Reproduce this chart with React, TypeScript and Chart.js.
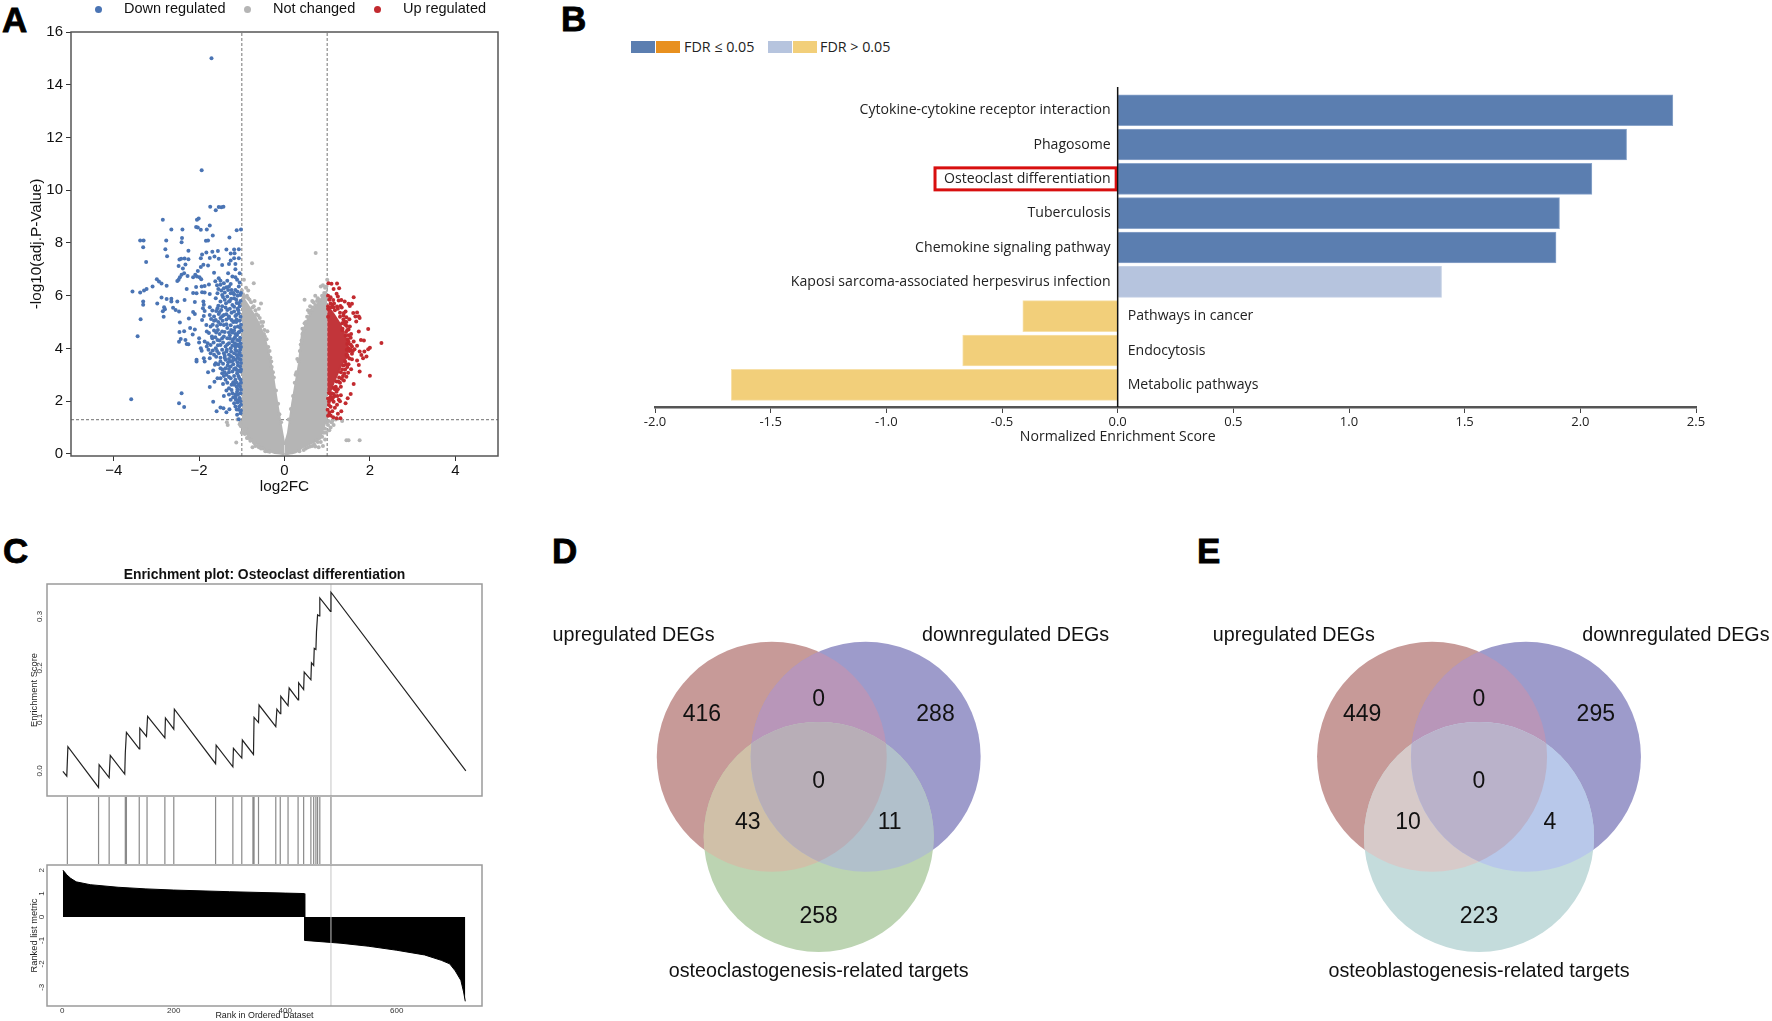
import { useEffect, useRef } from "react";
import { Chart, registerables } from "chart.js";

Chart.register(...registerables);

const ARIAL = '"Liberation Sans", Arial, sans-serif';
const SEGOE = '"Open Sans", "Noto Sans", sans-serif';

/* ---------- Panel A data ---------- */
const volcanoXTicks = [-4, -2, 0, 2, 4];
const volcanoYTicks = [0, 2, 4, 6, 8, 10, 12, 14, 16];
const foldThresholds = [-1, 1];
const pThreshold = 1.3;
const downPoints = [
  [-1.74,9.37],[-1.61,9.24],[-1.54,9.36],[-1.48,9.35],[-1.43,9.37],[-2.85,8.88],[-2.05,8.88],[-2.01,8.93],[-2.07,8.6],[-2.03,8.59],[-1.96,8.5],[-1.82,8.51],[-1.75,8.66],[-2.65,8.51],[-2.39,8.51],[-1.12,8.48],[-1.02,8.51],[-1.68,8.28],[-1.29,8.21],[-2.4,8.19],[-2.41,8.03],[-2.77,8.09],[-3.38,8.09],[-3.3,8.09],[-1.84,8.08],[-1.79,8.09],[-3.31,7.84],[-2.79,7.76],[-2.25,7.7],[-2.75,7.5],[-1.93,7.56],[-1.83,7.64],[-1.69,7.67],[-1.56,7.69],[-1.36,7.75],[-1.18,7.75],[-1.07,7.76],[-1.26,7.6],[-1.17,7.61],[-3.24,7.28],[-2.46,7.37],[-2.42,7.4],[-2.34,7.41],[-2.25,7.38],[-1.96,7.42],[-1.9,7.17],[-1.79,7.14],[-1.75,7.43],[-1.64,7.49],[-1.54,7.4],[-1.46,7.16],[-1.3,7.2],[-1.26,7.33],[-1.18,7.42],[-1.07,7.42],[-1.15,7.2],[-2.48,7.13],[-2.38,7.03],[-2.32,7.18],[-2.35,6.85],[-1.96,7.09],[-2.03,6.94],[-2.09,6.79],[-2.14,6.7],[-2.05,6.73],[-1.99,6.7],[-1.95,6.62],[-2.41,6.79],[-2.45,6.7],[-2.48,6.6],[-2.51,6.56],[-2.27,6.75],[-2.99,6.62],[-2.94,6.54],[-2.88,6.46],[-2.76,6.38],[-3.09,6.35],[-3.23,6.25],[-3.29,6.2],[-3.38,6.12],[-3.56,6.16],[-2.29,6.25],[-2.07,6.33],[-1.94,6.35],[-1.87,6.37],[-1.77,6.42],[-1.65,6.87],[-1.54,6.66],[-1.5,6.57],[-1.42,6.47],[-1.34,6.57],[-1.22,6.73],[-1.15,7.0],[-1.05,6.85],[-1.32,6.85],[-1.26,6.44],[-1.11,6.6],[-1.5,6.41],[-1.42,6.28],[-1.32,6.22],[-1.26,6.09],[-1.15,6.22],[-1.07,6.35],[-2.14,6.1],[-2.06,6.09],[-1.93,6.13],[-1.87,6.12],[-1.75,6.06],[-1.57,6.09],[-1.46,6.03],[-1.34,5.97],[-1.18,5.9],[-1.04,6.03],[-2.88,5.93],[-2.76,5.87],[-2.65,5.88],[-2.65,5.78],[-2.98,5.7],[-3.31,5.78],[-3.31,5.66],[-2.51,5.78],[-2.34,5.84],[-2.1,5.76],[-1.9,5.78],[-1.89,5.66],[-1.61,5.9],[-1.5,5.78],[-1.37,5.71],[-1.22,5.65],[-1.07,5.71],[-2.82,5.56],[-2.8,5.49],[-2.85,5.41],[-2.61,5.54],[-2.55,5.46],[-2.47,5.4],[-2.14,5.38],[-2.1,5.31],[-1.91,5.52],[-1.87,5.42],[-1.75,5.56],[-1.69,5.44],[-1.57,5.52],[-1.48,5.46],[-1.34,5.46],[-1.18,5.4],[-2.83,5.2],[-2.24,5.13],[-3.37,5.11],[-1.89,5.23],[-1.75,5.27],[-1.65,5.21],[-1.54,5.31],[-1.42,5.27],[-1.3,5.21],[-1.15,5.23],[-1.07,5.33],
  [-2.45,4.98],[-1.93,5.08],[-1.83,4.89],[-1.73,4.83],[-1.61,5.08],[-1.5,5.15],[-1.42,4.89],[-1.3,5.15],[-1.18,5.02],[-1.09,4.83],[-3.44,4.46],[-2.46,4.62],[-2.35,4.65],[-2.21,4.77],[-2.1,4.72],[-2.15,4.53],[-1.82,4.64],[-1.77,4.58],[-1.65,4.68],[-1.56,4.7],[-1.46,4.64],[-1.34,4.77],[-1.22,4.6],[-1.11,4.51],[-1.01,4.68],[-2.43,4.36],[-2.47,4.25],[-2.32,4.32],[-2.29,4.17],[-2.25,4.16],[-2.0,4.39],[-2.0,4.22],[-1.87,4.26],[-1.69,4.39],[-1.57,4.32],[-1.46,4.39],[-1.34,4.39],[-1.22,4.26],[-1.11,4.32],[-1.03,4.2],[-1.96,4.01],[-1.94,3.91],[-1.82,4.07],[-1.73,4.13],[-1.61,4.01],[-1.5,4.13],[-1.38,4.07],[-1.26,4.01],[-1.15,4.07],[-1.04,3.95],[-1.73,3.82],[-1.65,3.76],[-1.54,3.82],[-1.42,3.82],[-1.3,3.76],[-1.18,3.82],[-1.07,3.76],[-2.06,3.57],[-2.06,3.5],[-1.89,3.63],[-1.87,3.5],[-1.75,3.63],[-1.61,3.44],[-1.5,3.5],[-1.38,3.57],[-1.26,3.5],[-1.15,3.57],[-1.03,3.57],[-1.79,3.1],[-1.67,3.16],[-1.63,3.38],[-1.5,3.25],[-1.38,3.25],[-1.26,3.31],[-1.15,3.25],[-1.04,3.31],[-1.75,2.54],[-1.64,2.74],[-1.57,2.87],[-1.46,3.06],[-1.36,3.0],[-1.22,3.12],[-1.11,3.06],[-1.03,3.12],[-1.5,2.87],[-1.38,2.81],[-1.26,2.87],[-1.15,2.81],[-1.03,2.81],[-1.3,2.49],[-1.18,2.62],[-1.07,2.62],[-2.41,2.3],[-3.59,2.07],[-2.47,1.92],[-2.35,1.78],[-1.67,1.98],[-1.42,2.2],[-1.22,2.3],[-1.11,2.36],[-1.02,2.43],[-1.15,2.15],[-1.07,2.05],[-1.26,2.05],[-1.5,1.76],[-1.59,1.62],[-1.43,1.73],[-1.29,1.69],[-1.36,1.58],[-1.15,1.8],[-1.07,1.67],[-1.11,1.48],[-1.07,1.31],[-1.03,1.54],[-1.18,1.92],[-1.02,1.86],[-1.09,2.24],
  [-1.71,15.0],[-1.94,10.76],
  [-1.02,6.1],[-1.05,5.6],[-1.1,5.5],[-1.03,5.2],[-1.12,5.1],[-1.2,5.0],[-1.25,4.7],[-1.02,4.9],[-1.08,4.6],[-1.15,4.55],[-1.28,4.5],[-1.04,4.4],[-1.2,4.35],[-1.3,4.2],[-1.1,4.15],[-1.02,4.05],[-1.22,4.1],[-1.35,3.95],[-1.12,3.9],[-1.05,3.85],[-1.25,3.7],[-1.4,3.65],[-1.1,3.65],[-1.02,3.45],[-1.2,3.4],[-1.33,3.35],[-1.09,3.35],[-1.45,3.2],[-1.12,3.18],[-1.02,3.2],[-1.3,3.1],[-1.08,2.95],[-1.02,2.7],[-1.2,2.72],[-1.12,2.55],[-1.03,2.3],[-1.15,2.25],[-1.05,2.12],[-1.1,1.95],[-1.03,2.0],[-1.2,2.15],[-1.05,6.5],[-1.1,6.15],[-1.2,6.1],[-1.28,5.8],[-1.13,5.85],[-1.03,5.8],[-1.15,6.7],
  [-1.62,6.55],[-1.58,6.4],[-1.55,6.25],[-1.48,6.2],[-1.4,6.12],[-1.36,6.32],[-1.3,6.35],[-1.24,6.22],[-1.18,6.05],[-1.1,6.0],[-1.44,5.95],[-1.4,5.85],[-1.3,5.78],[-1.25,5.88],[-1.12,5.72],[-1.55,5.62],[-1.46,5.6],[-1.38,5.55],[-1.28,5.5],[-1.18,5.58],[-1.08,5.45],[-1.6,5.42],[-1.52,5.38],[-1.46,5.22],[-1.36,5.3],[-1.24,5.35],[-1.12,5.28],[-1.72,5.12],[-1.65,5.05],[-1.55,5.0],[-1.45,5.05],[-1.36,5.1],[-1.24,5.08],[-1.13,5.0],[-1.05,5.05],[-1.68,4.9],[-1.58,4.85],[-1.5,4.92],[-1.36,4.92],[-1.26,4.88],[-1.16,4.8],[-1.04,4.78],[-1.6,4.6],[-1.52,4.55],[-1.4,4.62],[-1.3,4.6],[-1.18,4.68],[-1.06,4.62],[-1.7,4.45],[-1.62,4.42],[-1.52,4.3],[-1.42,4.45],[-1.28,4.38],[-1.16,4.42],[-1.06,4.3],[-1.8,4.2],[-1.66,4.22],[-1.56,4.12],[-1.44,4.22],[-1.34,4.15],[-1.16,4.2],[-1.07,4.08],[-1.78,3.95],[-1.68,3.92],[-1.58,3.9],[-1.46,3.95],[-1.36,3.88],[-1.25,3.88],[-1.15,3.95],[-1.02,3.72],[-1.6,3.68],[-1.5,3.65],[-1.4,3.72],[-1.3,3.6],[-1.2,3.65],[-1.12,3.75],[-1.55,3.4],[-1.44,3.42],[-1.32,3.48],[-1.22,3.52],[-1.1,3.48],[-1.06,3.6],[-1.4,3.1],[-1.3,3.22],[-1.18,3.22],[-1.07,3.15],[-1.42,2.95],[-1.3,2.92],[-1.18,2.95],[-1.06,2.88],[-1.44,2.65],[-1.34,2.7],[-1.24,2.62],[-1.12,2.7],[-1.04,2.55],[-1.36,2.4],[-1.24,2.42],[-1.1,2.45],[-1.3,2.25],[-1.14,2.05],[-1.06,1.8],[-1.12,1.68],[-1.02,1.65],
];
const upPoints = [
  [1.03,6.47],[1.1,6.45],[1.23,6.46],[1.28,6.28],[1.15,6.25],[1.22,6.07],[1.25,5.97],[1.08,5.94],[1.62,5.94],[1.14,5.84],[1.27,5.82],[1.33,5.84],[1.41,5.78],[1.5,5.69],[1.58,5.69],[1.53,5.61],[1.31,5.61],[1.23,5.59],[1.12,5.65],[1.43,5.4],[1.39,5.34],[1.61,5.34],[1.7,5.36],[1.74,5.21],[1.66,5.21],[1.45,5.18],[1.52,5.11],[1.4,5.02],[1.68,5.02],[1.76,5.15],[1.96,4.74],[1.53,4.83],[1.47,4.7],[1.74,4.64],[1.56,4.55],[1.43,4.48],[1.79,4.32],[1.86,4.3],[1.62,4.26],[1.7,4.1],[2.27,4.21],[2.0,4.03],[1.96,3.97],[1.87,3.88],[1.76,3.88],[1.64,3.97],[1.58,4.07],[1.5,4.01],[1.47,4.17],[1.8,3.75],[1.92,3.69],[1.84,3.63],[1.7,3.54],[1.58,3.59],[1.48,3.69],[1.74,3.37],[1.76,3.12],[1.56,3.21],[1.49,3.08],[1.45,2.93],[2.0,2.96],[1.62,2.65],[1.39,2.78],[1.55,2.27],[1.48,2.11],[1.43,1.92],[1.32,2.22],[1.27,2.05],[1.33,1.62],[1.23,1.86],[1.15,1.98],[1.08,1.79],[1.25,1.52],[1.15,2.27],[1.22,2.36],[1.04,1.98],[1.08,2.17],[1.01,1.67],[1.05,1.57],[1.08,1.46],[1.14,1.39],[1.22,1.35],[1.31,1.35],
  [1.02,6.0],[1.05,5.85],[1.02,5.6],[1.15,5.55],[1.3,5.35],[1.38,5.1],[1.42,4.9],[1.36,4.75],[1.5,4.5],[1.48,4.35],[1.55,4.15],[1.52,3.9],[1.58,3.8],[1.45,3.75],[1.42,3.5],[1.5,3.4],[1.38,3.35],[1.42,3.2],[1.32,3.1],[1.37,2.95],[1.28,2.9],[1.3,2.7],[1.22,2.75],[1.2,2.55],[1.15,2.5],[1.25,2.45],[1.1,2.3],[1.05,2.3],[1.18,2.2],[1.12,2.05],[1.04,1.85],[1.18,1.75],[1.12,1.62],[1.02,1.45],[1.3,2.0],
  [1.02,5.5],[1.08,5.7],[1.18,5.45],[1.25,5.5],[1.34,5.55],[1.3,5.2],[1.38,5.25],[1.45,5.0],[1.35,4.95],[1.46,4.85],[1.5,4.72],[1.44,4.62],[1.55,4.4],[1.5,4.25],[1.55,3.95],[1.6,3.9],[1.46,3.95],[1.52,3.62],[1.44,3.4],[1.47,3.3],[1.4,3.05],[1.35,3.2],[1.34,2.85],[1.26,2.75],[1.32,2.55],[1.18,2.45],[1.24,2.2],[1.1,2.1],[1.02,2.1],[1.06,2.05],[1.14,2.15],[1.02,5.2],[1.08,5.55],[1.16,5.7],[1.35,4.7],
];
const greyPoints = [
  [0.73,7.62],[-0.76,7.23],[-0.72,6.47],[-0.9,6.3],[-0.85,6.2],[-0.95,6.6],[1.0,6.6],[0.47,5.85],[0.65,5.8],[0.85,6.35],[0.9,6.4],[0.95,6.3],[0.72,6.0],[-0.55,5.7],[-0.7,5.8],[-0.6,5.5],[-0.5,5.0],[-0.4,4.65],[-0.85,5.9],[-0.78,5.75],[-0.66,5.3],[-0.47,4.7],[-0.35,3.9],[-0.31,3.5],[0.42,4.75],[0.47,4.95],[0.55,5.45],[0.6,5.6],[0.78,5.9],[0.68,5.75],[0.4,4.3],[0.3,3.6],[0.26,3.0],
  [1.45,0.52],[1.5,0.52],[1.76,0.52],[-1.13,0.43],[-1.35,1.2],[-1.33,1.1],[1.35,1.25],[1.15,1.1],[1.1,1.2],[1.05,0.9],[0.85,0.45],[0.9,0.3],[0.8,0.25],[0.95,0.55],[-0.75,0.25],[-0.7,0.4],[-0.85,0.6],[-0.95,0.85],[-0.9,0.95],[-0.8,0.5],[-0.98,1.1],[-1.03,1.2],[-1.1,1.3],[-1.0,0.8],[0.7,0.35],[0.75,0.5],[0.6,0.28],[0.5,0.2],[-0.6,0.25],[-0.5,0.2],[-0.4,0.1],[1.02,1.1],[1.08,1.0],[0.98,0.8],[0.92,0.8],
  [-1.0,6.2],[-0.97,6.05],[-0.93,5.95],[-0.88,6.0],[-0.82,5.85],[-0.75,5.55],[-0.72,5.6],[-0.68,5.45],[-0.62,5.25],[-0.58,5.15],[-0.55,5.0],[-0.52,4.85],[-0.48,4.55],[-0.46,4.45],[-0.42,4.35],[-0.38,4.05],[-0.33,3.65],[-0.3,3.3],[-0.27,3.1],[-0.25,2.9],[-0.2,2.4],[-0.15,1.9],[-0.12,1.5],[-0.08,1.2],
  [0.1,1.3],[0.15,1.7],[0.2,2.2],[0.24,2.7],[0.28,3.1],[0.33,3.5],[0.36,3.9],[0.38,4.15],[0.42,4.55],[0.46,4.7],[0.5,5.0],[0.53,5.2],[0.58,5.35],[0.62,5.45],[0.66,5.55],[0.72,5.65],[0.76,5.8],[0.8,5.85],[0.88,6.0],[0.93,6.1],[0.98,6.35],
  [-0.93,0.75],[-0.88,0.6],[-0.72,0.45],[-0.68,0.3],[-0.62,0.32],[-0.55,0.2],[-0.45,0.1],[-0.35,0.08],[0.35,0.1],[0.45,0.15],[0.55,0.25],[0.65,0.3],[0.72,0.28],[0.78,0.45],[0.82,0.6],[0.88,0.65],[0.95,0.95],[0.98,1.2],[1.03,1.25],[1.12,1.25],[1.2,1.3],[-1.02,1.05],[-1.05,1.12],
];
const greyLeftX = [-1.0, -0.9, -0.8, -0.7, -0.6, -0.5, -0.44, -0.36, -0.29, -0.23, -0.17, -0.11, -0.05, 0];
const greyLeftTop = [6.0, 5.75, 5.5, 5.25, 4.95, 4.55, 4.26, 3.75, 3.2, 2.55, 1.92, 1.35, 0.78, 0.34];
const greyLeftBottom = [1.0, 0.78, 0.59, 0.46, 0.34, 0.24, 0.18, 0.11, 0.07, 0.03, 0.02, 0.01, 0.0, 0.0];
const greyRightX = [0, 0.08, 0.13, 0.18, 0.26, 0.34, 0.41, 0.49, 0.57, 0.69, 0.84, 0.92, 1.0];
const greyRightTop = [0.34, 0.78, 1.35, 1.92, 2.68, 3.44, 4.58, 4.9, 5.2, 5.5, 5.84, 6.0, 6.2];
const greyRightBottom = [0.0, 0.0, 0.01, 0.02, 0.06, 0.13, 0.24, 0.3, 0.36, 0.45, 0.62, 1.0, 1.41];
const redBandX = [1.0, 1.08, 1.15, 1.23, 1.31, 1.38, 1.45, 1.5];
const redBandTop = [5.5, 5.45, 5.3, 5.1, 4.9, 4.6, 4.3, 3.95];
const redBandBottom = [2.3, 2.4, 2.7, 3.0, 3.3, 3.5, 3.65, 3.8];
const volcanoLegend = ["Down regulated", "Not changed", "Up regulated"];

/* ---------- Panel B data ---------- */
const pathways = [
  "Cytokine-cytokine receptor interaction",
  "Phagosome",
  "Osteoclast differentiation",
  "Tuberculosis",
  "Chemokine signaling pathway",
  "Kaposi sarcoma-associated herpesvirus infection",
  "Pathways in cancer",
  "Endocytosis",
  "Metabolic pathways",
];
const enrichmentScores = [2.4, 2.2, 2.05, 1.91, 1.895, 1.4, -0.41, -0.67, -1.67];
const pathwaySignificant = [true, true, true, true, true, false, false, false, false];
const nesTicks = [-2, -1.5, -1, -0.5, 0, 0.5, 1, 1.5, 2, 2.5];
const highlightedPathway = "Osteoclast differentiation";

/* ---------- Panel C data ---------- */
const esRanks = [1,8,10,65,66,84,86,112,113,115,138,139,151,153,184,185,200,201,275,276,306,307,322,323,343,344,352,353,383,385,391,392,405,407,423,424,433,434,446,447,451,452,455,456,458,461,462,481,482,724];
const esValues = [-0.001,-0.01,0.047,-0.032,0.012,-0.013,0.03,-0.006,0.035,0.075,0.043,0.083,0.067,0.106,0.064,0.103,0.081,0.12,0.014,0.05,0.008,0.044,0.025,0.06,0.032,0.104,0.094,0.128,0.086,0.12,0.111,0.145,0.127,0.161,0.138,0.171,0.158,0.192,0.177,0.21,0.205,0.238,0.236,0.27,0.303,0.301,0.336,0.31,0.347,0];
const hitRanks = [9,65,84,113,115,138,152,184,200,275,306,322,342,344,352,383,391,405,423,433,446,451,455,458,462,482];
const peakRank = 482;
const metricRanks = [1,3,8,15,25,50,100,150,200,300,400,434,435,500,550,600,650,680,695,705,715,720,723];
const metricValues = [2.0,1.95,1.8,1.65,1.5,1.38,1.27,1.2,1.15,1.08,1.02,1.0,-1.0,-1.12,-1.25,-1.42,-1.62,-1.85,-2.0,-2.3,-2.7,-3.2,-3.6];
const esTicks = [0, 0.1, 0.2, 0.3];
const metricTicks = [-3, -2, -1, 0, 1, 2];
const rankTicks = [0, 200, 400, 600];

/* ---------- Panels D, E data ---------- */
const vennCircles = [
  { x: -0.41, y: 0.35, r: 115 },
  { x: 0.41, y: 0.35, r: 115 },
  { x: 0, y: -0.35, r: 115 },
];
const vennCountX = [-1.02, 0, 1.02, 0, -0.62, 0.62, 0];
const vennCountY = [0.72, 0.852, 0.72, 0.136, -0.222, -0.222, -1.043];
const countsD = ["416", "0", "288", "0", "43", "11", "258"];
const countsE = ["449", "0", "295", "0", "10", "4", "223"];
const vennNameX = [-1.617, 1.72, 0];
const vennNameY = [1.407, 1.407, -1.523];
const namesD = ["upregulated DEGs", "downregulated DEGs", "osteoclastogenesis-related targets"];
const namesE = ["upregulated DEGs", "downregulated DEGs", "osteoblastogenesis-related targets"];
const coloursD = { a: "#c79a98", b: "#9d9bcb", c: "#bcd4b2", ab: "#b896b9", ac: "#d0c0a8", bc: "#b1c0cb", abc: "#b8aeb7" };
const coloursE = { a: "#c79a98", b: "#9d9bcb", c: "#c4dcdc", ab: "#b896b9", ac: "#d7cac9", bc: "#b8c8ea", abc: "#bab2ca" };

/* ---------- helpers ---------- */
type Rect = { l: number; t: number; r: number; b: number };

const toXY = (xs: number[], ys: number[]) => xs.map((x, i) => ({ x, y: ys[i] }));
const pairs = (list: number[][]) => list.map(([x, y]) => ({ x, y }));
const fixedTicks = (values: number[]) => (s: any) => {
  s.ticks = values.map((value) => ({ value }));
};
const fixWidth = (w: number) => (s: any) => {
  s.width = w;
};
const fixHeight = (h: number) => (s: any) => {
  s.height = h;
};

const framePlugin = (color: string, width: number) => ({
  id: "frame",
  afterDatasetsDraw(chart: any) {
    const { ctx, chartArea: a } = chart;
    ctx.save();
    ctx.strokeStyle = color;
    ctx.lineWidth = width;
    ctx.strokeRect(a.left, a.top, a.right - a.left, a.bottom - a.top);
    ctx.restore();
  },
});

const hiddenAxis = (min: number, max: number) => ({ type: "linear", display: false, min, max, offset: false });

const baseOptions = (panel: Rect, plot: Rect, hideX: boolean, hideY: boolean) => ({
  responsive: false,
  animation: false,
  events: [],
  layout: {
    autoPadding: false,
    padding: {
      left: hideY ? plot.l - panel.l : 0,
      top: plot.t - panel.t,
      right: panel.r - plot.r,
      bottom: hideX ? panel.b - plot.b : 0,
    },
  },
  plugins: { legend: { display: false }, tooltip: { enabled: false }, title: { display: false } },
  elements: { line: { tension: 0 } },
});

function Panel({ panel, build }: { panel: Rect; build: () => any }) {
  const ref = useRef<HTMLCanvasElement>(null);
  useEffect(() => {
    const chart = new Chart(ref.current as any, build());
    return () => chart.destroy();
  }, []);
  return (
    <canvas
      ref={ref}
      width={panel.r - panel.l}
      height={panel.b - panel.t}
      style={{ position: "absolute", left: panel.l, top: panel.t, width: panel.r - panel.l, height: panel.b - panel.t }}
    />
  );
}

/* ---------- A ---------- */
const panelA: Rect = { l: 28, t: 15, r: 515, b: 496 };
const plotA: Rect = { l: 71, t: 32, r: 498, b: 456 };
const volcanoBlue = "#4a74b4";
const volcanoGrey = "#b5b5b5";
const volcanoRed = "#c22a2f";
const dots = (data: number[][], color: string) => ({
  data: pairs(data), showLine: false, pointRadius: 2, pointBorderWidth: 0, pointBackgroundColor: color,
});
const band = (xs: number[], ys: number[], color: string, fill: any, edge: number) => ({
  data: toXY(xs, ys), pointRadius: 0, borderWidth: edge, borderColor: color, backgroundColor: color, fill,
});
const dashed = (data: any[]) => ({
  data, pointRadius: 0, borderColor: "#8c8c8c", borderWidth: 1.2, borderDash: [3, 2], fill: false,
});

const buildA = () => ({
  type: "line",
  data: {
    datasets: [
      dots(downPoints, volcanoBlue),
      dots(upPoints, volcanoRed),
      dots(greyPoints, volcanoGrey),
      band(redBandX, redBandTop, "#c2353a", false, 2),
      band(redBandX, redBandBottom, "#c2353a", "-1", 2),
      band(greyLeftX, greyLeftTop, volcanoGrey, false, 2),
      band(greyLeftX, greyLeftBottom, volcanoGrey, "-1", 2),
      band(greyRightX, greyRightTop, volcanoGrey, false, 2),
      band(greyRightX, greyRightBottom, volcanoGrey, "-1", 2),
      dashed([{ x: foldThresholds[0], y: -0.08 }, { x: foldThresholds[0], y: 16 }]),
      dashed([{ x: foldThresholds[1], y: -0.08 }, { x: foldThresholds[1], y: 16 }]),
      dashed([{ x: -5, y: pThreshold }, { x: 5, y: pThreshold }]),
    ],
  },
  options: {
    ...baseOptions(panelA, plotA, false, false),
    scales: {
      x: {
        type: "linear", min: -5, max: 5,
        afterBuildTicks: fixedTicks(volcanoXTicks),
        afterFit: fixHeight(panelA.b - plotA.b),
        grid: { drawOnChartArea: false, drawTicks: true, tickLength: 5, color: "#333", lineWidth: 1 },
        border: { display: false },
        ticks: { color: "#111", font: { family: ARIAL, size: 15 }, padding: 1, maxRotation: 0, autoSkip: false, callback: (v: number) => String(v).replace("-", "\u2212") },
        title: { display: true, text: "log2FC", color: "#111", font: { family: ARIAL, size: 15.3 }, padding: 0 },
      },
      y: {
        type: "linear", min: -0.08, max: 16,
        afterBuildTicks: fixedTicks(volcanoYTicks),
        afterFit: fixWidth(plotA.l - panelA.l),
        grid: { drawOnChartArea: false, drawTicks: true, tickLength: 5, color: "#333", lineWidth: 1 },
        border: { display: false },
        ticks: { color: "#111", font: { family: ARIAL, size: 15 }, padding: 3, autoSkip: false },
        title: { display: true, text: "-log10(adj.P-Value)", color: "#111", font: { family: ARIAL, size: 15.3 }, padding: 0 },
      },
    },
  },
  plugins: [framePlugin("#555", 1.5)],
});

/* ---------- B ---------- */
const panelB: Rect = { l: 635, t: 80, r: 1720, b: 445 };
const plotB: Rect = { l: 655, t: 87, r: 1696, b: 407 };
const barFill = (i: number) => (enrichmentScores[i] >= 0 ? (pathwaySignificant[i] ? "#5b7eb0" : "#b6c4de") : "#f2cf7a");
const barEdge = (i: number) => (enrichmentScores[i] >= 0 ? (pathwaySignificant[i] ? "#8ba5ca" : "#c4d0e5") : "#f7e0a8");

const pathwayLabels = {
  id: "pathwayLabels",
  afterDatasetsDraw(chart: any) {
    const { ctx, scales } = chart;
    const x0 = scales.x.getPixelForValue(0);
    ctx.save();
    ctx.font = `14.1px ${SEGOE}`;
    ctx.fillStyle = "#222";
    ctx.textBaseline = "middle";
    pathways.forEach((name, i) => {
      const y = scales.y.getPixelForValue(i);
      const positive = enrichmentScores[i] >= 0;
      ctx.textAlign = positive ? "right" : "left";
      ctx.fillText(name, positive ? x0 - 7 : x0 + 10, y);
      if (name === highlightedPathway) {
        const w = ctx.measureText(name).width;
        ctx.save();
        ctx.strokeStyle = "#d80f0f";
        ctx.lineWidth = 3;
        ctx.strokeRect(x0 - 7 - w - 9, y - 11, w + 14.5, 22);
        ctx.restore();
      }
    });
    ctx.textAlign = "center";
    ctx.fillText("Normalized Enrichment Score", x0, chart.chartArea.bottom + 29.7);
    ctx.strokeStyle = "#111";
    ctx.lineWidth = 1.5;
    ctx.beginPath();
    ctx.moveTo(x0, chart.chartArea.top);
    ctx.lineTo(x0, chart.chartArea.bottom);
    ctx.stroke();
    ctx.restore();
  },
};

const buildB = () => ({
  type: "bar",
  data: {
    datasets: [
      {
        data: enrichmentScores.map((v, i) => ({ x: v, y: i })),
        backgroundColor: enrichmentScores.map((_, i) => barFill(i)),
        borderColor: enrichmentScores.map((_, i) => barEdge(i)),
        borderWidth: 1,
        barThickness: 31,
      },
    ],
  },
  options: {
    ...baseOptions(panelB, plotB, false, true),
    indexAxis: "y",
    scales: {
      x: {
        type: "linear", min: -2, max: 2.5,
        afterBuildTicks: fixedTicks(nesTicks),
        afterFit: fixHeight(panelB.b - plotB.b),
        grid: { drawOnChartArea: false, drawTicks: true, tickLength: 6, color: "#444", lineWidth: 1 },
        border: { display: true, color: "#555", width: 2.5 },
        ticks: { color: "#222", font: { family: SEGOE, size: 13 }, padding: 1, maxRotation: 0, autoSkip: false, callback: (v: number) => v.toFixed(1) },
      },
      y: { type: "linear", display: false, reverse: true, min: -0.676, max: 8.645, offset: false },
    },
  },
  plugins: [pathwayLabels],
});

/* ---------- C ---------- */
const panelC1: Rect = { l: 29, t: 555, r: 500, b: 815 };
const plotC1: Rect = { l: 47, t: 584, r: 482, b: 796 };
const panelC2: Rect = { l: 0, t: 796, r: 500, b: 865 };
const plotC2: Rect = { l: 47, t: 797, r: 482, b: 864 };
const panelC3: Rect = { l: 29, t: 845, r: 500, b: 1021 };
const plotC3: Rect = { l: 47, t: 865, r: 482, b: 1006 };
const boxGrey = "#9a9a9a";
const rankMin = -27.5;
const rankMax = 753;
const peakLine = (yMin: number, yMax: number) => ({
  data: [{ x: peakRank, y: yMin }, { x: peakRank, y: yMax }],
  pointRadius: 0, borderColor: "#c4c4c4", borderWidth: 1, fill: false,
});
const sideAxis = (min: number, max: number, ticks: number[], title: string, width: number, fmt: (v: number) => string) => ({
  type: "linear", min, max,
  afterBuildTicks: fixedTicks(ticks),
  afterFit: fixWidth(width),
  grid: { display: false, drawTicks: false },
  border: { display: false },
  ticks: { color: "#333", font: { family: ARIAL, size: 8 }, padding: 1.2, crossAlign: "center", minRotation: 90, maxRotation: 90, autoSkip: false, callback: fmt },
  title: { display: true, text: title, color: "#222", font: { family: ARIAL, size: 9.3 }, padding: 0 },
});

const plotTitle = {
  id: "plotTitle",
  afterDraw(chart: any) {
    const { ctx, chartArea: a } = chart;
    ctx.save();
    ctx.font = `bold 13.9px ${ARIAL}`;
    ctx.fillStyle = "#111";
    ctx.textAlign = "center";
    ctx.textBaseline = "middle";
    ctx.fillText("Enrichment plot: Osteoclast differentiation", (a.left + a.right) / 2, a.top - 9);
    ctx.restore();
  },
};

const buildC1 = () => ({
  type: "line",
  data: {
    datasets: [
      { data: toXY(esRanks, esValues), pointRadius: 0, borderColor: "#222", borderWidth: 1.2, fill: false },
      peakLine(-0.0487, 0.363),
    ],
  },
  options: {
    ...baseOptions(panelC1, plotC1, true, false),
    scales: {
      x: hiddenAxis(rankMin, rankMax),
      y: sideAxis(-0.0487, 0.363, esTicks, "Enrichment Score", plotC1.l - panelC1.l, (v: number) => v.toFixed(1)),
    },
  },
  plugins: [framePlugin(boxGrey, 1.5), plotTitle],
});

const buildC2 = () => ({
  type: "line",
  data: {
    datasets: [
      {
        data: hitRanks.flatMap((r) => [{ x: r, y: 0 }, { x: r, y: 1 }, { x: r, y: null }]),
        pointRadius: 0, borderColor: "#8a8a8a", borderWidth: 1.2, fill: false, spanGaps: false,
      },
    ],
  },
  options: {
    ...baseOptions(panelC2, plotC2, true, true),
    scales: { x: hiddenAxis(rankMin, rankMax), y: hiddenAxis(0, 1) },
  },
});

const buildC3 = () => ({
  type: "line",
  data: {
    datasets: [
      peakLine(-3.8, 2.22),
      { data: toXY(metricRanks, metricValues), pointRadius: 0, borderColor: "#000", borderWidth: 1, backgroundColor: "#000", fill: "origin" },
    ],
  },
  options: {
    ...baseOptions(panelC3, plotC3, false, false),
    scales: {
      x: {
        type: "linear", min: rankMin, max: rankMax,
        afterBuildTicks: fixedTicks(rankTicks),
        afterFit: fixHeight(panelC3.b - plotC3.b),
        grid: { display: false, drawTicks: false },
        border: { display: false },
        ticks: { color: "#333", font: { family: ARIAL, size: 8 }, padding: 0, maxRotation: 0, autoSkip: false },
        title: { display: true, text: "Rank in Ordered Dataset", color: "#222", font: { family: ARIAL, size: 8.9 }, padding: 0 },
      },
      y: sideAxis(-3.8, 2.22, metricTicks, "Ranked list metric", plotC3.l - panelC3.l, (v: number) => String(v)),
    },
  },
  plugins: [framePlugin(boxGrey, 1.5)],
});

/* ---------- D, E ---------- */
const vennRegions = (colours: typeof coloursD, counts: string[], names: string[]) => ({
  id: "vennRegions",
  afterDatasetsDraw(chart: any) {
    const { ctx, scales } = chart;
    const [a, b, c] = chart.getDatasetMeta(0).data;
    const clipTo = (e: any) => {
      ctx.beginPath();
      ctx.arc(e.x, e.y, e.options.radius, 0, Math.PI * 2);
      ctx.clip();
    };
    const region = (clips: any[], target: any, color: string) => {
      ctx.save();
      clips.forEach(clipTo);
      ctx.fillStyle = color;
      ctx.beginPath();
      ctx.arc(target.x, target.y, target.options.radius, 0, Math.PI * 2);
      ctx.fill();
      ctx.restore();
    };
    region([a], b, colours.ab);
    region([a], c, colours.ac);
    region([b], c, colours.bc);
    region([a, b], c, colours.abc);

    ctx.save();
    ctx.fillStyle = "#111";
    ctx.textAlign = "center";
    ctx.textBaseline = "middle";
    ctx.font = `23px ${ARIAL}`;
    counts.forEach((t, i) => {
      ctx.fillText(t, scales.x.getPixelForValue(vennCountX[i]), scales.y.getPixelForValue(vennCountY[i]));
    });
    ctx.font = `19.7px ${ARIAL}`;
    names.forEach((t, i) => {
      ctx.fillText(t, scales.x.getPixelForValue(vennNameX[i]), scales.y.getPixelForValue(vennNameY[i]));
    });
    ctx.restore();
  },
});

const vennPlot = (cx: number): Rect => ({ l: cx - 286.25, t: 613.6, r: cx + 286.25, b: 980 });
const panelD: Rect = { l: 520, t: 600, r: 1130, b: 1000 };
const panelE: Rect = { l: 1180, t: 600, r: 1772, b: 1000 };

const buildVenn = (panel: Rect, plot: Rect, colours: typeof coloursD, counts: string[], names: string[]) => ({
  type: "bubble",
  data: {
    datasets: [
      {
        data: vennCircles,
        backgroundColor: [colours.a, colours.b, colours.c],
        borderWidth: 0,
        clip: false,
      },
    ],
  },
  options: {
    ...baseOptions(panel, plot, true, true),
    scales: { x: hiddenAxis(-2.5, 2.5), y: hiddenAxis(-1.6, 1.6) },
  },
  plugins: [vennRegions(colours, counts, names)],
});

/* ---------- page ---------- */
const letter = (text: string, left: number, top: number) => (
  <span
    key={text}
    style={{ position: "absolute", left, top, fontFamily: ARIAL, fontWeight: 700, fontSize: 35, lineHeight: 1, color: "#000", WebkitTextStroke: "0.8px #000" }}
  >
    {text}
  </span>
);
const legendText = (text: string, left: number) => (
  <span
    key={text}
    style={{ position: "absolute", left, top: 0, fontFamily: ARIAL, fontSize: 14.5, lineHeight: "17px", color: "#111", whiteSpace: "nowrap" }}
  >
    {text}
  </span>
);
const dot = (left: number, color: string) => (
  <span
    key={left}
    style={{ position: "absolute", left: left - 3.5, top: 5.5, width: 7, height: 7, borderRadius: "50%", background: color }}
  />
);
const swatch = (left: number, color: string) => (
  <span key={left} style={{ position: "absolute", left, top: 41, width: 24, height: 12, background: color }} />
);
const fdrText = (text: string, left: number) => (
  <span
    key={text}
    style={{ position: "absolute", left, top: 38, fontFamily: SEGOE, fontSize: 14.3, lineHeight: "18px", color: "#222", whiteSpace: "nowrap" }}
  >
    {text}
  </span>
);

export default function App() {
  return (
    <div style={{ position: "absolute", left: 0, top: 0, width: 1772, height: 1021, background: "#fff", overflow: "hidden" }}>
      <Panel panel={panelA} build={buildA} />
      <Panel panel={panelB} build={buildB} />
      <Panel panel={panelC1} build={buildC1} />
      <Panel panel={panelC2} build={buildC2} />
      <Panel panel={panelC3} build={buildC3} />
      <Panel panel={panelD} build={() => buildVenn(panelD, vennPlot(818.7), coloursD, countsD, namesD)} />
      <Panel panel={panelE} build={() => buildVenn(panelE, vennPlot(1479), coloursE, countsE, namesE)} />
      {letter("A", 2, 2)}
      {letter("B", 561, 1)}
      {letter("C", 3, 533)}
      {letter("D", 552, 533)}
      {letter("E", 1197, 533)}
      {dot(98, volcanoBlue)}
      {legendText(volcanoLegend[0], 124)}
      {dot(247, volcanoGrey)}
      {legendText(volcanoLegend[1], 273)}
      {dot(377, volcanoRed)}
      {legendText(volcanoLegend[2], 403)}
      {swatch(631, "#5b7eb0")}
      {swatch(656, "#e8901f")}
      {fdrText("FDR \u2264 0.05", 684)}
      {swatch(768, "#b6c4de")}
      {swatch(793, "#f2cf7a")}
      {fdrText("FDR > 0.05", 820)}
    </div>
  );
}
